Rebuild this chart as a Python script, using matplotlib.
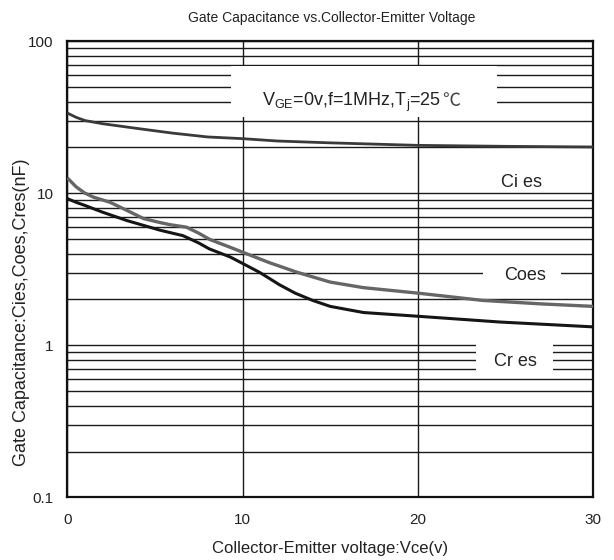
import matplotlib
matplotlib.use("Agg")
import matplotlib.pyplot as plt
from matplotlib.patches import Rectangle
from matplotlib.ticker import FixedLocator, FixedFormatter, NullFormatter, LogLocator

plt.rcParams['font.family'] = ['Liberation Sans', 'DejaVu Sans']
plt.rcParams['mathtext.fontset'] = 'custom'
plt.rcParams['mathtext.rm'] = 'Liberation Sans'
plt.rcParams['mathtext.it'] = 'Liberation Sans:italic'

# ---- data ----
cies_v = [0, 0.5, 1, 2, 4, 6, 8, 10, 12, 15, 20, 25, 30]
cies_c = [33.6, 31.5, 30.0, 28.6, 26.6, 24.8, 23.4, 22.8, 22.0, 21.4, 20.6, 20.3, 20.1]

coes_v = [0, 0.5, 1, 1.5, 2.44, 3.4, 4.35, 5.3, 5.86, 6.8, 7.5, 8.14, 9.28, 10, 11.5, 13.1, 15, 16.9, 20, 23.7, 27, 30]
coes_c = [12.6, 11.0, 10.0, 9.4, 8.7, 7.7, 6.8, 6.4, 6.2, 5.97, 5.45, 4.95, 4.41, 4.09, 3.5, 3.02, 2.6, 2.39, 2.2, 1.97, 1.87, 1.8]

cres_v = [0, 0.5, 1, 2, 3.4, 5.3, 6.6, 7.5, 8.1, 9.3, 10, 11, 12.1, 13, 14, 15, 16.9, 20, 24.7, 30]
cres_c = [9.2, 8.7, 8.3, 7.5, 6.6, 5.7, 5.25, 4.7, 4.3, 3.8, 3.45, 3.0, 2.5, 2.2, 1.97, 1.8, 1.64, 1.55, 1.42, 1.32]

x_ticks = [0, 10, 20, 30]
x_ticklabels = ["0", "10", "20", "30"]
y_ticks = [0.1, 1, 10, 100]
y_ticklabels = ["0.1", "1", "10", "100"]

title = "Gate Capacitance vs.Collector-Emitter Voltage"
xlabel = "Collector-Emitter voltage:Vce(v)"
ylabel = "Gate Capacitance:Cies,Coes,Cres(nF)"
cond_label = r"V$_\mathregular{GE}$=0v,f=1MHz,T$_\mathregular{j}$=25"
cond_unit = "℃"
curve_labels = ["Ci es", "Coes", "Cr es"]

fig = plt.figure(figsize=(6.14, 5.6), dpi=100)
ax = fig.add_axes([67.3/614, 1-497.3/560, (593-67.3)/614, (497.3-41)/560])

ax.set_yscale('log')
ax.set_xlim(0, 30)
ax.set_ylim(0.1, 100)

ax.xaxis.set_major_locator(FixedLocator(x_ticks))
ax.xaxis.set_major_formatter(FixedFormatter(x_ticklabels))
ax.yaxis.set_major_locator(FixedLocator(y_ticks))
ax.yaxis.set_major_formatter(FixedFormatter(y_ticklabels))
ax.yaxis.set_minor_locator(LogLocator(base=10, subs=[2, 3, 4, 5, 6, 7, 8, 9]))
ax.yaxis.set_minor_formatter(NullFormatter())

ax.set_axisbelow(True)
ax.grid(True, which='both', axis='y', color='#1a1a1a', lw=1.0)
ax.grid(True, which='major', axis='x', color='#1a1a1a', lw=1.0)

ax.tick_params(axis='both', which='both', length=0, labelsize=11, colors='#222222')
ax.tick_params(axis='y', pad=10)
ax.tick_params(axis='x', pad=11)
for s in ax.spines.values():
    s.set_linewidth(1.6)
    s.set_color('#111111')

# white label boxes interrupting grid
ax.add_patch(Rectangle((9.33, 31.5), 24.5-9.33, 68-31.5, facecolor='white', edgecolor='none', zorder=1))
ax.add_patch(Rectangle((23.7, 2.3), 28.2-23.7, 3.75-2.3, facecolor='white', edgecolor='none', zorder=1))
ax.add_patch(Rectangle((23.3, 0.65), 27.7-23.3, 1.08-0.65, facecolor='white', edgecolor='none', zorder=1))

ax.plot(cies_v, cies_c, color='#3a3a3a', lw=2.0, zorder=3, solid_capstyle='butt')
ax.plot(coes_v, coes_c, color='#666666', lw=2.4, zorder=3, solid_capstyle='butt')
ax.plot(cres_v, cres_c, color='#151515', lw=2.2, zorder=3, solid_capstyle='butt')

t1 = ax.text(11.1, 37.3, cond_label, ha='left', va='baseline', fontsize=13, color='#222222', zorder=4)
fig.canvas.draw()
bb = t1.get_window_extent()
x_end = ax.transData.inverted().transform((bb.x1, 0))[0]
ax.text(x_end + 0.05, 37.3, cond_unit, ha='left', va='baseline', fontsize=13,
        family=['Noto Sans CJK JP', 'DejaVu Sans'], color='#444444', zorder=4)

ax.text(25.9, 11.8, curve_labels[0], ha='center', va='center', fontsize=13, color='#222222', zorder=4)
ax.text(26.1, 2.89, curve_labels[1], ha='center', va='center', fontsize=13, color='#222222', zorder=4)
ax.text(25.6, 0.785, curve_labels[2], ha='center', va='center', fontsize=13, color='#222222', zorder=4)

fig.text(332/614, 1-18/560, title, ha='center', va='center', fontsize=10, color='#222222')
fig.text(329.6/614, 1-549/560, xlabel, ha='center', va='center', fontsize=12, color='#222222')
fig.text(22/614, 1-312.5/560, ylabel, ha='center', va='center', rotation=90, fontsize=13, color='#222222')

fig.savefig("out.png", dpi=100)
